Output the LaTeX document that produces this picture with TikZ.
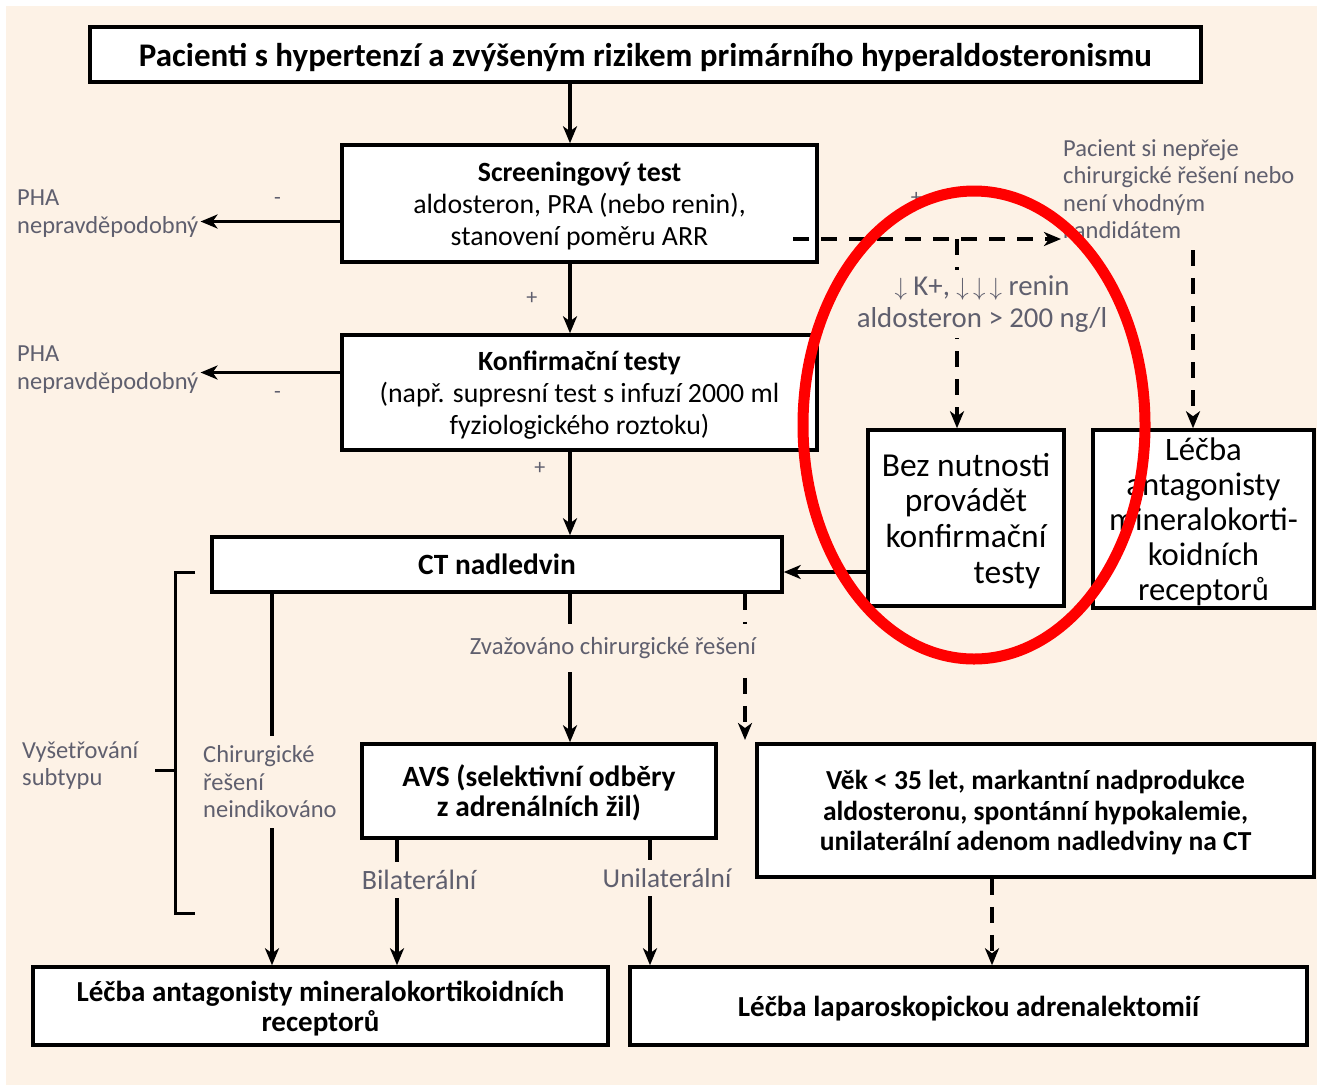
\documentclass[tikz,border=0pt]{standalone}
\usepackage{fontspec}
\setmainfont{Carlito}
\usetikzlibrary{arrows.meta,calc}

\definecolor{bgbeige}{RGB}{253,242,230}
\definecolor{lblgray}{RGB}{95,95,110}

\tikzset{
  box/.style={draw, line width=3.5pt, fill=white, inner sep=0pt, align=center, text depth=0pt},
  lbl/.style={text=lblgray, inner sep=2pt, align=left, font=\fontsize{24.5}{27.5}\selectfont},
  gap/.style={fill=bgbeige},
  arr/.style={line width=3.2pt, -{Stealth[length=17pt,width=14pt,inset=5pt]}},
  dsh/.style={dash pattern=on 16pt off 12pt},
  sgn/.style={text=lblgray, inner sep=1pt, font=\fontsize{22}{24}\selectfont},
}

\begin{document}
\begin{tikzpicture}[x=1pt,y=-1pt]
\useasboundingbox (0,0) rectangle (1317,1088);
\fill[bgbeige] (6,6) rectangle (1317,1085);

% helper coordinates for the connector columns
\coordinate (spine) at (570,0);
\coordinate (cl) at (272,0);
\coordinate (bl) at (397,0);
\coordinate (ul) at (650,0);
\coordinate (vl) at (992,0);
\coordinate (dl) at (745,740);
\coordinate (dsh0) at (793,239);
\coordinate (rd) at (1193,250);

% boxes
\node[box, minimum width=1111pt, minimum height=55pt, font=\bfseries\fontsize{33}{36}\selectfont]
  (top) at (645.5,54.5) {Pacienti s hypertenzí a zvýšeným rizikem primárního hyperaldosteronismu};
\node[box, minimum width=475pt, minimum height=117pt, font=\fontsize{27.8}{32}\selectfont]
  (scr) at (579.5,203.5) {\textbf{Screeningový test}\\aldosteron, PRA (nebo renin),\\stanovení poměru ARR};
\node[box, minimum width=475pt, minimum height=115pt, font=\fontsize{27.8}{32}\selectfont]
  (konf) at (579.5,392.5) {\textbf{Konfirmační testy}\\(např. supresní test s infuzí 2000 ml\\fyziologického roztoku)};
\node[box, minimum width=570pt, minimum height=55pt, font=\bfseries\fontsize{29.4}{32}\selectfont]
  (ct) at (497,564.5) {CT nadledvin};
\node[box, minimum width=196pt, minimum height=176pt, font=\fontsize{33.5}{35.7}\selectfont]
  (bez) at (966,518) {Bez nutnosti\\provádět\\konfirmační\\\hspace*{82pt}testy};
\node[box, minimum width=221pt, minimum height=178pt, font=\fontsize{32.7}{35}\selectfont]
  (mrl) at (1203.5,519) {Léčba\\antagonisty\\mineralokorti-\\koidních\\receptorů};
\node[box, minimum width=354pt, minimum height=94pt, font=\bfseries\fontsize{29.4}{30}\selectfont]
  (avs) at (539,791) {AVS (selektivní odběry\\z adrenálních žil)};
\node[box, minimum width=557pt, minimum height=133pt, font=\bfseries\fontsize{27.5}{30.5}\selectfont]
  (vek) at (1035.5,810.5) {Věk < 35 let, markantní nadprodukce\\aldosteronu, spontánní hypokalemie,\\unilaterální adenom nadledviny na CT};
\node[box, minimum width=575pt, minimum height=78pt, font=\bfseries\fontsize{29}{30}\selectfont]
  (mra) at (320.5,1006) {Léčba antagonisty mineralokortikoidních\\receptorů};
\node[box, minimum width=677pt, minimum height=78pt, font=\bfseries\fontsize{29}{30}\selectfont]
  (lap) at (968.5,1006) {Léčba laparoskopickou adrenalektomií};

% side labels
\node[lbl, anchor=west] (pha1) at (15,213.5) {PHA\\nepravděpodobný};
\node[lbl, anchor=west] (pha2) at (15,369.5) {PHA\\nepravděpodobný};
\node[lbl, anchor=west] (ps) at (1061,189) {Pacient si nepřeje\\chirurgické řešení nebo\\není vhodným\\kandidátem};
\node[lbl, anchor=west] (vys) at (20,765.5) {Vyšetřování\\subtypu};

% main column
\draw[arr] (top.south -| spine) -- (scr.north -| spine);
\draw[arr] (scr.south -| spine) -- node[sgn, left=30pt] {+} (konf.north -| spine);
\draw[arr] (konf.south -| spine) -- node[sgn, pos=0.2, left=22pt] {+} (ct.north -| spine);

% negative results
\draw[arr] ([yshift=-18pt]scr.west) -- node[sgn, above=14pt, pos=0.45] {-} ([yshift=-18pt]scr.west -| pha1.east);
\draw[arr] ([yshift=20pt]konf.west) -- node[sgn, below=16pt, pos=0.45] {-} ([yshift=20pt]konf.west -| pha2.east);

% dashed branch to the right
\draw[arr, dsh] (dsh0) -- node[sgn, pos=0.46, above=32pt] {+} (dsh0 -| ps.west);
\draw[arr, dsh] ([xshift=-9pt]dsh0 -| bez.north) -- ([xshift=-9pt]bez.north);
\node[gap, text=lblgray, inner sep=6pt, align=center, font=\fontsize{28.8}{32}\selectfont]
  (kr) at (982,304) {$\downarrow$ K+, $\downarrow\,\downarrow\,\downarrow$ renin\\aldosteron > 200 ng/l};
\draw[arr, dsh] (rd) -- (rd |- mrl.north);
\draw[arr] ([yshift=-54pt]bez.west) -- ([yshift=-54pt]bez.west -| ct.east);

% subtype bracket
\draw[line width=3pt] (195,572) -- (175,572) -- (175,913) -- (195,913);
\draw[line width=3pt] (155,770) -- (175,770);

% below CT
\draw[arr] (ct.south -| cl) -- (mra.north -| cl);
\node[gap, lbl, anchor=west, inner ysep=10pt] (neind) at (201,782) {Chirurgické\\řešení\\neindikováno};
\draw[arr] (ct.south -| spine) -- (avs.north -| spine);
\draw[arr, dsh] (ct.south -| dl) -- (dl);
\node[gap, text=lblgray, inner xsep=4pt, inner ysep=13pt, font=\fontsize{24.7}{27}\selectfont]
  (zvaz) at (613,648) {Zvažováno chirurgické řešení};

% below AVS
\draw[arr] (avs.south -| bl) -- (mra.north -| bl);
\node[gap, text=lblgray, inner sep=8pt, font=\fontsize{28}{30}\selectfont] (bil) at (419,880) {Bilaterální};
\draw[arr] (avs.south -| ul) -- (lap.north -| ul);
\node[gap, text=lblgray, inner sep=8pt, font=\fontsize{27.3}{30}\selectfont] (uni) at (667,878) {Unilaterální};
\draw[arr, dsh] (vek.south -| vl) -- (lap.north -| vl);

% highlight
\draw[red, line width=11pt] (974,425) ellipse [x radius=171pt, y radius=234pt];
\end{tikzpicture}
\end{document}
